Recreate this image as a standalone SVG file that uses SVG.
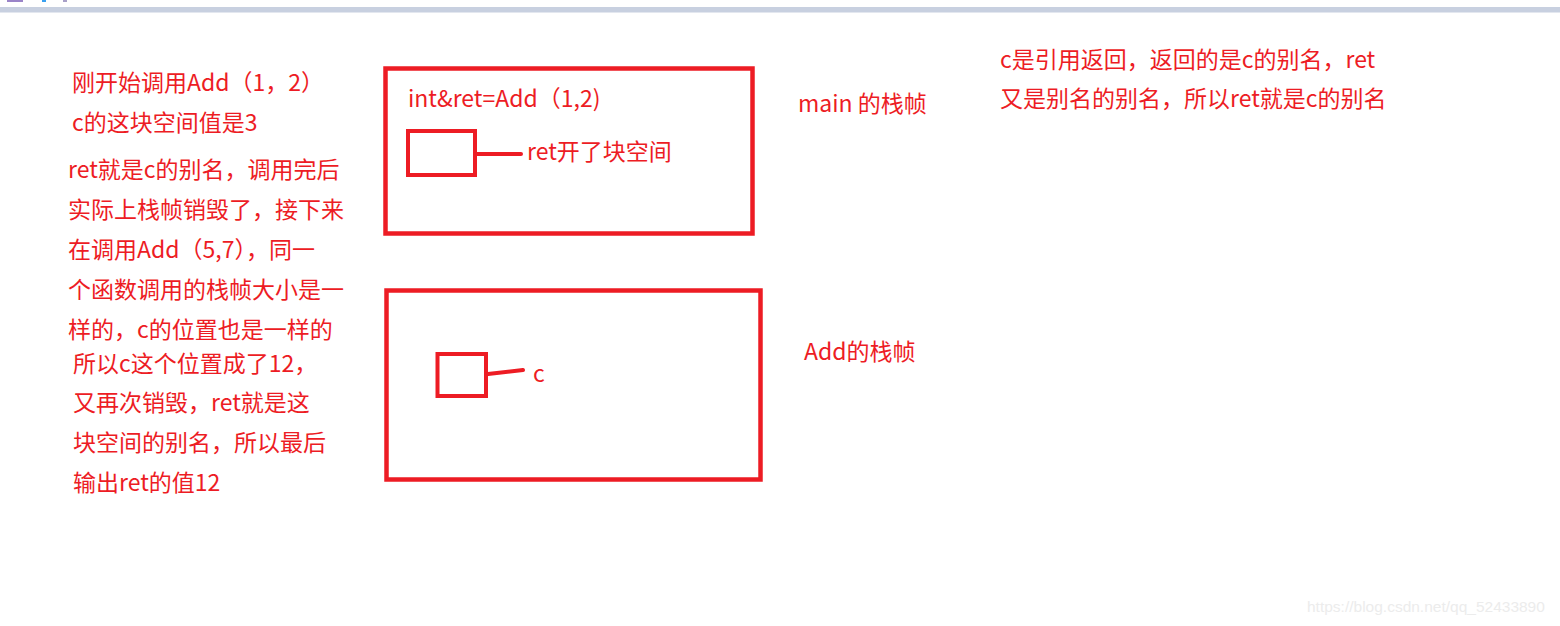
<svg xmlns="http://www.w3.org/2000/svg" width="1560" height="626" viewBox="0 0 1560 626">
<style>
  .t { font-family: "Noto Sans CJK SC", "Noto Sans", sans-serif; font-size: 23px; fill: #ed1c24; }
  .box { fill: none; stroke: #ed1c24; stroke-width: 4.5; }
  .cell { fill: none; stroke: #ed1c24; stroke-width: 4; }
  .wm { font-family: "Liberation Sans", Arial, sans-serif; font-size: 15.5px; fill: #ececec; }
</style>
<rect x="0" y="0" width="1560" height="626" fill="#ffffff"/>
<g id="topbar">
  <rect x="0" y="7" width="1560" height="5.5" fill="#c8d0e0"/>
  <rect x="7" y="0" width="16" height="2" fill="#9a84c8"/>
  <rect x="42" y="0" width="4" height="2" fill="#3aa0f0"/>
  <rect x="63" y="0" width="4" height="2" fill="#a8a0c8"/>
</g>
<g id="left-notes">
  <text class="t" x="72" y="91">刚开始调用Add（1，2）</text>
  <text class="t" x="72" y="131">c的这块空间值是3</text>
  <text class="t" x="68" y="178">ret就是c的别名，调用完后</text>
  <text class="t" x="68" y="218">实际上栈帧销毁了，接下来</text>
  <text class="t" x="68" y="258">在调用Add（5,7），同一</text>
  <text class="t" x="68" y="298">个函数调用的栈帧大小是一</text>
  <text class="t" x="68" y="338">样的，c的位置也是一样的</text>
  <text class="t" x="73" y="372">所以c这个位置成了12，</text>
  <text class="t" x="73" y="411">又再次销毁，ret就是这</text>
  <text class="t" x="73" y="451">块空间的别名，所以最后</text>
  <text class="t" x="73" y="491">输出ret的值12</text>
</g>
<g id="main-frame">
  <rect class="box" x="385.5" y="68.5" width="367" height="165"/>
  <text class="t" x="408" y="107">int&amp;ret=Add（1,2)</text>
</g>
<g id="ret-cell">
  <rect class="cell" x="408" y="131" width="67" height="44"/>
  <text class="t" x="527" y="160">ret开了块空间</text>
</g>
<g id="add-frame">
  <rect class="box" x="386.5" y="290.5" width="374" height="189"/>
</g>
<g id="c-cell">
  <rect class="cell" x="437.5" y="354" width="48.5" height="42"/>
  <text class="t" x="533" y="382">c</text>
</g>
<g id="connectors">
  <line x1="477" y1="154" x2="521" y2="154" stroke="#ed1c24" stroke-width="4" stroke-linecap="round"/>
  <line x1="488" y1="374" x2="523" y2="370" stroke="#ed1c24" stroke-width="4" stroke-linecap="round"/>
</g>
<g id="labels">
  <text class="t" x="798" y="112">main 的栈帧</text>
  <text class="t" x="804" y="360">Add的栈帧</text>
  <text class="t" x="1000" y="68">c是引用返回，返回的是c的别名，ret</text>
  <text class="t" x="1000" y="107">又是别名的别名，所以ret就是c的别名</text>
</g>
<text class="wm" x="1307" y="612">https://blog.csdn.net/qq_52433890</text>
</svg>
